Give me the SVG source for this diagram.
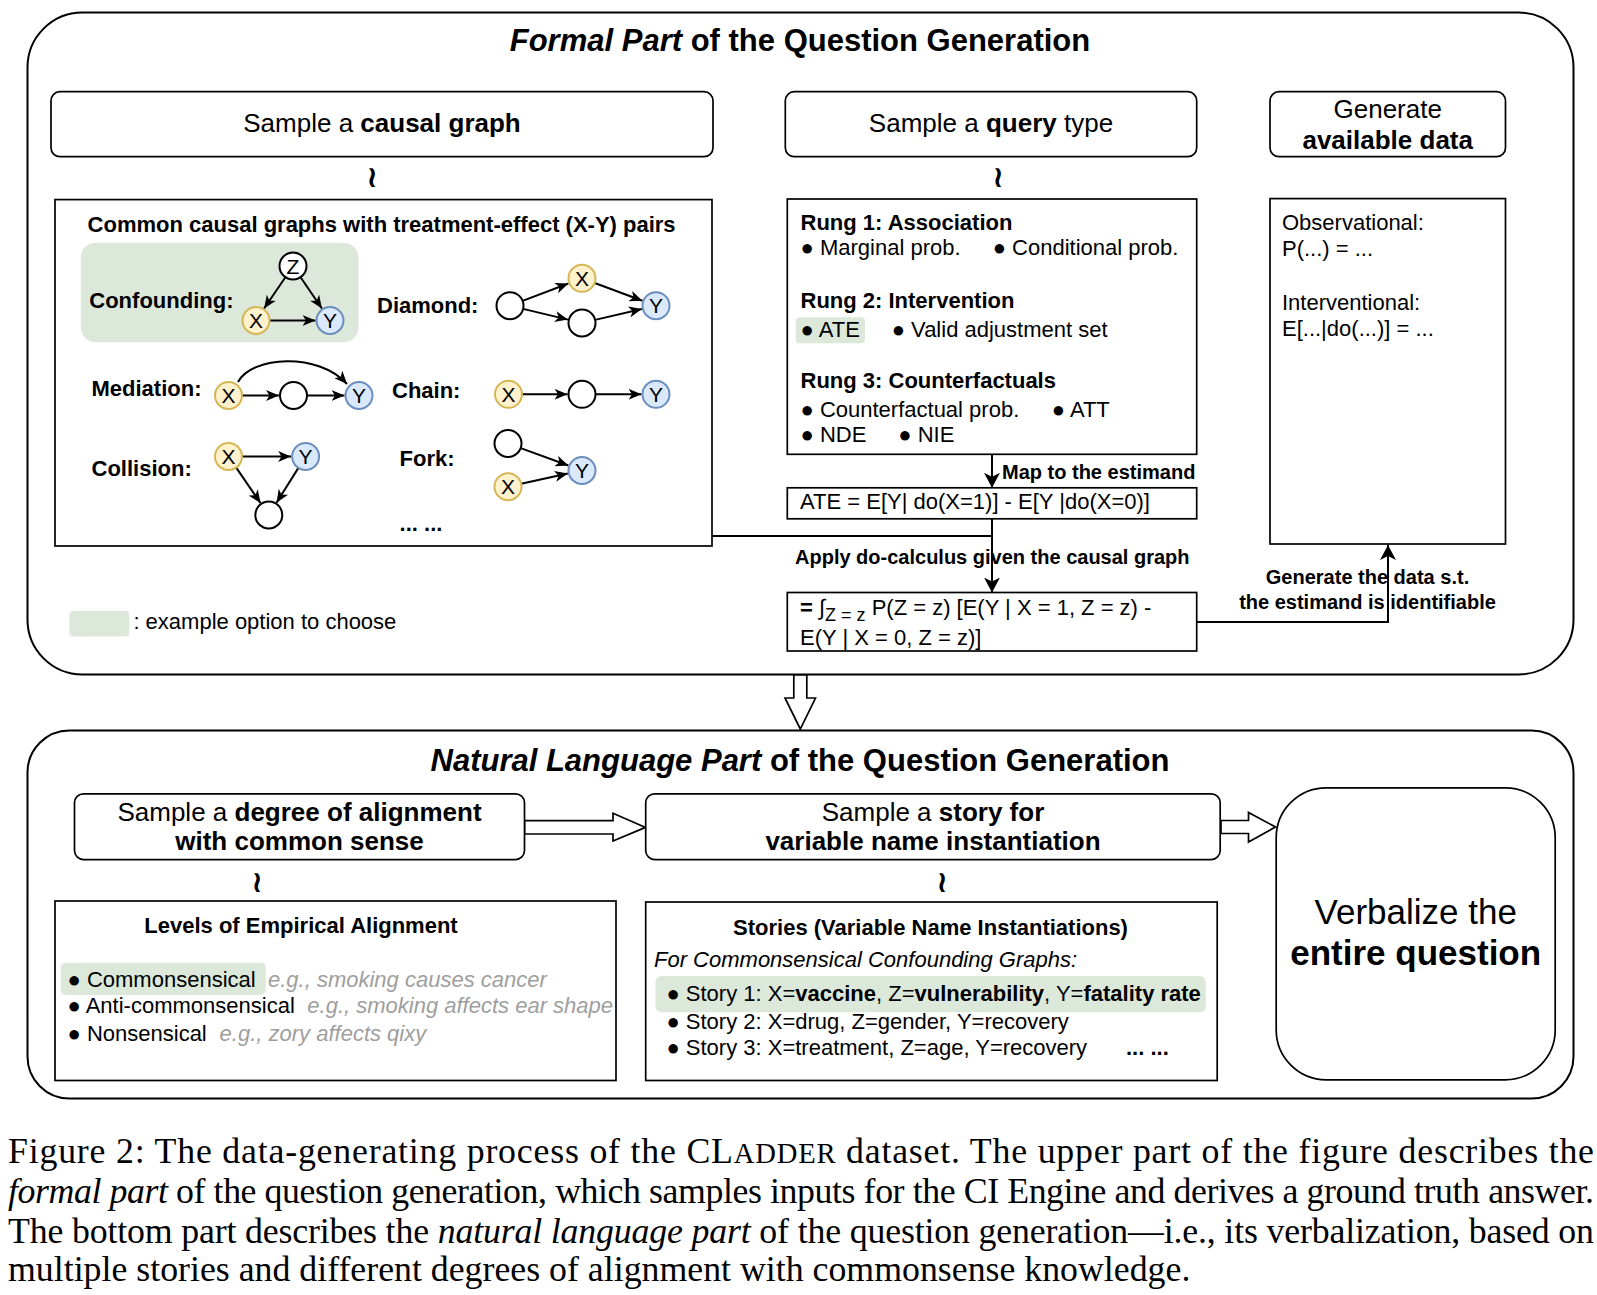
<svg xmlns="http://www.w3.org/2000/svg" width="1597" height="1295" viewBox="0 0 1597 1295">
<style>
.t{font-family:"Liberation Sans",Arial,sans-serif;font-size:22px;fill:#000}
.b{font-weight:bold}
.i{font-style:italic}
.s26{font-size:26px}
.s35{font-size:35px}
.bl{font-size:22px}
.ttl{font-family:"Liberation Sans",Arial,sans-serif;font-size:31px;font-weight:bold;fill:#000}
.lbl{font-family:"Liberation Sans",Arial,sans-serif;font-size:20px;font-weight:bold;fill:#000}
.grey{fill:#9e9e9e;font-style:italic}
.outer{fill:#fff;stroke:#000;stroke-width:2}
.box{fill:#fff;stroke:#000;stroke-width:1.7}
.hl{fill:#dce9da}
.nx{fill:#fff2cc;stroke:#d6b656;stroke-width:2}
.ny{fill:#dae8fc;stroke:#6c8ebf;stroke-width:2}
.nb{fill:#fff;stroke:#000;stroke-width:2}
.nl{font-family:"Liberation Sans",Arial,sans-serif;font-size:21px;text-anchor:middle;fill:#000}
.e{stroke:#000;stroke-width:2;fill:none;marker-end:url(#arr)}
.c{stroke:#000;stroke-width:2;fill:none}
.ca{stroke:#000;stroke-width:2;fill:none;marker-end:url(#arr2)}
.hollow{fill:#fff;stroke:#000;stroke-width:1.7}
.sq{font-family:"DejaVu Sans",sans-serif;font-size:30px;font-weight:bold;text-anchor:middle;fill:#000}
.cap{font-family:"Liberation Serif","Times New Roman",serif;font-size:35.8px;fill:#000}
</style>
<defs>
<marker id="arr" markerWidth="13" markerHeight="11" refX="13" refY="5.5" orient="auto" markerUnits="userSpaceOnUse"><path d="M0,0 L13,5.5 L0,11 L3.5,5.5 z" fill="#000"/></marker>
<marker id="arr2" markerWidth="15" markerHeight="16" refX="15" refY="8" orient="auto" markerUnits="userSpaceOnUse"><path d="M0,0 L15,8 L0,16 L4,8 z" fill="#000"/></marker>
</defs>
<rect width="1597" height="1295" fill="#fff"/>

<!-- Formal part container -->
<g id="formal-part">
<rect class="outer" x="27.5" y="12.5" width="1546" height="662" rx="55" ry="55"/>
<text class="ttl" x="800" y="51" text-anchor="middle"><tspan font-style="italic">Formal Part</tspan> of the Question Generation</text>
</g>

<!-- Natural language part container -->
<g id="nl-part">
<rect class="outer" x="27.5" y="730.5" width="1546" height="368" rx="42" ry="42"/>
<text class="ttl" x="800" y="771" text-anchor="middle"><tspan font-style="italic">Natural Language Part</tspan> of the Question Generation</text>
</g>

<!-- connectors -->
<g id="connectors">
<line class="ca" x1="992" y1="454.3" x2="992" y2="487.8"/>
<polyline class="c" points="712,536 992,536"/>
<line class="ca" x1="992" y1="518.8" x2="992" y2="592.5"/>
<polyline class="ca" points="1196,622 1388,622 1388,545"/>
<polygon class="hollow" points="793.8,675 806.8,675 806.8,698 815.5,698 800.3,729 785,698 793.8,698"/>
<polygon class="hollow" points="524.5,820.7 613,820.7 613,813.3 645.5,827.4 613,841 613,834 524.5,834"/>
<polygon class="hollow" points="1221,820.5 1248.5,820.5 1248.5,812.5 1275.5,827 1248.5,842 1248.5,833.5 1221,833.5"/>
<text class="sq" x="372" y="187">≀</text>
<text class="sq" x="998" y="187">≀</text>
<text class="sq" x="257" y="892">≀</text>
<text class="sq" x="942" y="892">≀</text>
<text class="lbl" x="1002" y="478.5">Map to the estimand</text>
<text class="lbl" x="795" y="563.5">Apply do-calculus given the causal graph</text>
<text class="lbl" x="1367.5" y="583.5" text-anchor="middle">Generate the data s.t.</text>
<text class="lbl" x="1367.5" y="608.5" text-anchor="middle">the estimand is identifiable</text>
</g>

<!-- top row sampling boxes -->
<g id="sample-causal-graph">
<rect class="box" x="51" y="91.7" width="662" height="65" rx="9"/>
<text class="t s26" x="382" y="131.5" text-anchor="middle">Sample a <tspan class="b">causal graph</tspan></text>
</g>
<g id="sample-query-type">
<rect class="box" x="785.3" y="91.7" width="411.4" height="65" rx="9"/>
<text class="t s26" x="991" y="131.5" text-anchor="middle">Sample a <tspan class="b">query</tspan> type</text>
</g>
<g id="generate-available-data">
<rect class="box" x="1270" y="91.7" width="235.5" height="65" rx="9"/>
<text class="t s26" x="1387.7" y="117.5" text-anchor="middle">Generate</text>
<text class="t s26 b" x="1387.7" y="148.6" text-anchor="middle">available data</text>
</g>

<!-- causal graphs panel -->
<g id="causal-graphs">
<rect class="box" x="55" y="199.6" width="657" height="346.4"/>
<text class="t b" x="87.6" y="231.7">Common causal graphs with treatment-effect (X-Y) pairs</text>
<rect class="hl" x="80.8" y="242.7" width="277.7" height="99.6" rx="15"/>
<text class="t b" x="89.3" y="308.3">Confounding:</text>
<text class="t b" x="377" y="313.3">Diamond:</text>
<text class="t b" x="91.5" y="396">Mediation:</text>
<text class="t b" x="392" y="398">Chain:</text>
<text class="t b" x="91.5" y="476">Collision:</text>
<text class="t b" x="399.6" y="466">Fork:</text>
<text class="t b" x="399.6" y="530.7">... ...</text>

<g id="graph-edges">
<line class="e" x1="285.4" y1="277.2" x2="264.1" y2="308.5"/>
<line class="e" x1="300.6" y1="277.2" x2="321.9" y2="308.5"/>
<line class="e" x1="269.5" y1="320.5" x2="315.5" y2="320.5"/>
<line class="e" x1="522.6" y1="300.9" x2="568.4" y2="283.5"/>
<line class="e" x1="523.1" y1="308.9" x2="567.9" y2="319.6"/>
<line class="e" x1="594.7" y1="283" x2="642.4" y2="300.7"/>
<line class="e" x1="595.1" y1="319.9" x2="641.9" y2="309"/>
<line class="e" x1="242" y1="395.5" x2="279" y2="395.5"/>
<line class="e" x1="307" y1="395.5" x2="344.5" y2="395.5"/>
<path class="e" d="M238,382 C252,356 318,352 347,384"/>
<line class="e" x1="522" y1="394.3" x2="567.5" y2="394.3"/>
<line class="e" x1="595.5" y1="394.3" x2="641.5" y2="394.3"/>
<line class="e" x1="242" y1="456.5" x2="291.1" y2="456.5"/>
<line class="e" x1="236.2" y1="467.6" x2="260.6" y2="503.1"/>
<line class="e" x1="298.4" y1="467.9" x2="276.5" y2="502.7"/>
<line class="e" x1="520.7" y1="448.1" x2="568.4" y2="465.5"/>
<line class="e" x1="521.2" y1="483.8" x2="567.8" y2="473.6"/>
</g>

<g id="conf-Z"><circle class="nb" cx="293" cy="266" r="13.5"/><text class="nl" x="293" y="273.5">Z</text></g>
<g id="conf-X"><circle class="nx" cx="256" cy="320.5" r="13.5"/><text class="nl" x="256" y="328">X</text></g>
<g id="conf-Y"><circle class="ny" cx="330" cy="320.5" r="13.5"/><text class="nl" x="330" y="328">Y</text></g>

<g id="dia-L"><circle class="nb" cx="510" cy="305.7" r="13.5"/></g>
<g id="dia-X"><circle class="nx" cx="582" cy="278.3" r="13.5"/><text class="nl" x="582" y="285.8">X</text></g>
<g id="dia-B"><circle class="nb" cx="582" cy="323" r="13.5"/></g>
<g id="dia-Y"><circle class="ny" cx="656" cy="305.7" r="13.5"/><text class="nl" x="656" y="313.2">Y</text></g>

<g id="med-X"><circle class="nx" cx="228.5" cy="395.5" r="13.5"/><text class="nl" x="228.5" y="403">X</text></g>
<g id="med-M"><circle class="nb" cx="293.5" cy="395.5" r="13.5"/></g>
<g id="med-Y"><circle class="ny" cx="359" cy="395.5" r="13.5"/><text class="nl" x="359" y="403">Y</text></g>

<g id="chain-X"><circle class="nx" cx="508.5" cy="394.3" r="13.5"/><text class="nl" x="508.5" y="401.8">X</text></g>
<g id="chain-M"><circle class="nb" cx="582" cy="394.3" r="13.5"/></g>
<g id="chain-Y"><circle class="ny" cx="656" cy="394.3" r="13.5"/><text class="nl" x="656" y="401.8">Y</text></g>

<g id="col-X"><circle class="nx" cx="228.5" cy="456.5" r="13.5"/><text class="nl" x="228.5" y="464">X</text></g>
<g id="col-Y"><circle class="ny" cx="305.6" cy="456.5" r="13.5"/><text class="nl" x="305.6" y="464">Y</text></g>
<g id="col-B"><circle class="nb" cx="268.8" cy="515" r="13.5"/></g>

<g id="fork-T"><circle class="nb" cx="508" cy="443.5" r="13.5"/></g>
<g id="fork-X"><circle class="nx" cx="508" cy="486.7" r="13.5"/><text class="nl" x="508" y="494.2">X</text></g>
<g id="fork-Y"><circle class="ny" cx="582" cy="470.5" r="13.5"/><text class="nl" x="582" y="478">Y</text></g>
</g>

<!-- legend -->
<g id="legend">
<rect class="hl" x="69.3" y="611" width="60" height="25.6" rx="4"/>
<text class="t" x="133.4" y="629.4">: example option to choose</text>
</g>

<!-- rung box -->
<g id="query-types">
<rect class="box" x="787.3" y="199" width="409.4" height="255.3"/>
<text class="t b" x="800.5" y="230">Rung 1: Association</text>
<text class="t" x="800.5" y="255"><tspan class="bl">●</tspan> Marginal prob.</text>
<text class="t" x="992.7" y="255"><tspan class="bl">●</tspan> Conditional prob.</text>
<text class="t b" x="800.5" y="308.3">Rung 2: Intervention</text>
<rect class="hl" x="795.7" y="317.3" width="69.3" height="26" rx="4"/>
<text class="t" x="800.5" y="336.7"><tspan class="bl">●</tspan> ATE</text>
<text class="t" x="891.7" y="336.7"><tspan class="bl">●</tspan> Valid adjustment set</text>
<text class="t b" x="800.5" y="388.3">Rung 3: Counterfactuals</text>
<text class="t" x="800.5" y="416.7"><tspan class="bl">●</tspan> Counterfactual prob.</text>
<text class="t" x="1051.7" y="416.7"><tspan class="bl">●</tspan> ATT</text>
<text class="t" x="800.5" y="441.7"><tspan class="bl">●</tspan> NDE</text>
<text class="t" x="898.3" y="441.7"><tspan class="bl">●</tspan> NIE</text>
</g>

<g id="estimand">
<rect class="box" x="787.3" y="487.8" width="409.4" height="31"/>
<text class="t" x="800" y="509.3">ATE = E[Y| do(X=1)] - E[Y |do(X=0)]</text>
</g>

<g id="do-calculus-result">
<rect class="box" x="787.3" y="592.5" width="409.4" height="58.5"/>
<text class="t" x="800" y="615"><tspan class="b">=</tspan> ∫<tspan font-size="18" dy="6">Z = z</tspan><tspan dy="-6"> P(Z = z) [E(Y | X = 1, Z = z) -</tspan></text>
<text class="t" x="800" y="645">E(Y | X = 0, Z = z)]</text>
</g>

<g id="available-data">
<rect class="box" x="1270" y="198.6" width="235.5" height="345.4"/>
<text class="t" x="1282" y="230">Observational:</text>
<text class="t" x="1282" y="255.7">P(...) = ...</text>
<text class="t" x="1282" y="309.6">Interventional:</text>
<text class="t" x="1282" y="336.4">E[...|do(...)] = ...</text>
</g>

<!-- bottom -->
<g id="sample-alignment">
<rect class="box" x="74.5" y="793.8" width="450" height="65.8" rx="9"/>
<text class="t s26" x="299.5" y="820.5" text-anchor="middle">Sample a <tspan class="b">degree of alignment</tspan></text>
<text class="t s26 b" x="299.5" y="850" text-anchor="middle">with common sense</text>
</g>
<g id="sample-story">
<rect class="box" x="645.7" y="793.8" width="574.5" height="65.8" rx="9"/>
<text class="t s26" x="933" y="820.5" text-anchor="middle">Sample a <tspan class="b">story for</tspan></text>
<text class="t s26 b" x="933" y="850" text-anchor="middle">variable name instantiation</text>
</g>
<g id="verbalize">
<rect class="box" x="1276.2" y="787.8" width="279" height="292" rx="50"/>
<text class="t s35" x="1415.7" y="923.5" text-anchor="middle">Verbalize the</text>
<text class="t s35 b" x="1415.7" y="964.5" text-anchor="middle">entire question</text>
</g>

<g id="alignment-levels">
<rect class="box" x="55" y="901" width="561" height="179.5"/>
<text class="t b" x="301" y="933.3" text-anchor="middle">Levels of Empirical Alignment</text>
<rect class="hl" x="60.7" y="962.7" width="205.1" height="32.3" rx="5"/>
<text class="t" x="67.5" y="986.7"><tspan class="bl">●</tspan> Commonsensical</text>
<text class="t grey" x="268" y="986.7">e.g., smoking causes cancer</text>
<text class="t" x="67.5" y="1013.3"><tspan class="bl">●</tspan> Anti-commonsensical</text>
<text class="t grey" x="307.3" y="1013.3">e.g., smoking affects ear shape</text>
<text class="t" x="67.5" y="1040.7"><tspan class="bl">●</tspan> Nonsensical</text>
<text class="t grey" x="219.6" y="1040.7">e.g., zory affects qixy</text>
</g>

<g id="stories">
<rect class="box" x="645.7" y="902" width="571.5" height="178.5"/>
<text class="t b" x="930.5" y="935" text-anchor="middle">Stories (Variable Name Instantiations)</text>
<text class="t i" x="654" y="967.3">For Commonsensical Confounding Graphs:</text>
<rect class="hl" x="655.5" y="976" width="550.3" height="36.3" rx="6"/>
<text class="t" x="666.4" y="1000.7"><tspan class="bl">●</tspan> Story 1: X=<tspan class="b">vaccine</tspan>, Z=<tspan class="b">vulnerability</tspan>, Y=<tspan class="b">fatality rate</tspan></text>
<text class="t" x="666.4" y="1029.3"><tspan class="bl">●</tspan> Story 2: X=drug, Z=gender, Y=recovery</text>
<text class="t" x="666.4" y="1055"><tspan class="bl">●</tspan> Story 3: X=treatment, Z=age, Y=recovery</text>
<text class="t b" x="1126" y="1055">... ...</text>
</g>

<!-- caption -->
<g id="caption">
<text class="cap" x="8" y="1163" textLength="1586" lengthAdjust="spacing">Figure 2: The data-generating process of the CL<tspan font-size="28.6">ADDER</tspan> dataset. The upper part of the figure describes the</text>
<text class="cap" x="8" y="1203" textLength="1586" lengthAdjust="spacing"><tspan font-style="italic">formal part</tspan> of the question generation, which samples inputs for the CI Engine and derives a ground truth answer.</text>
<text class="cap" x="8" y="1242.6" textLength="1586" lengthAdjust="spacing">The bottom part describes the <tspan font-style="italic">natural language part</tspan> of the question generation—i.e., its verbalization, based on</text>
<text class="cap" x="8" y="1281.3">multiple stories and different degrees of alignment with commonsense knowledge.</text>
</g>
</svg>
